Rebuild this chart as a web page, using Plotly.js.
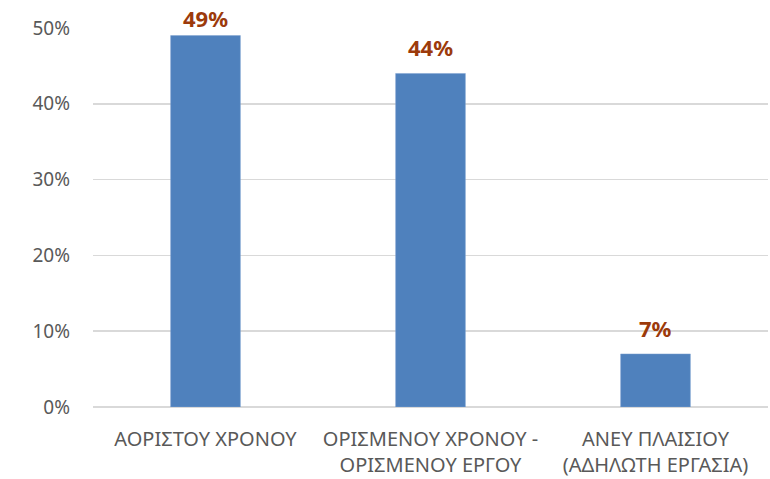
<!DOCTYPE html>
<html><head><meta charset="utf-8">
<script src="https://cdn.plot.ly/plotly-3.0.1.min.js"></script>
<style>body{margin:0;background:#fff}#c{width:770px;height:479px}</style>
</head><body><div id="c"></div>
<script>
const categories = ["ΑΟΡΙΣΤΟΥ ΧΡΟΝΟΥ", "ΟΡΙΣΜΕΝΟΥ ΧΡΟΝΟΥ -<br>ΟΡΙΣΜΕΝΟΥ ΕΡΓΟΥ", "ΑΝΕΥ ΠΛΑΙΣΙΟΥ<br>(ΑΔΗΛΩΤΗ ΕΡΓΑΣΙΑ)"];
const values = [0.49, 0.44, 0.07];
const labels = ["49%", "44%", "7%"];
const yTicks = [0, 0.1, 0.2, 0.3, 0.4, 0.5];
const yTickText = ["0%", "10%", "20%", "30%", "40%", "50%"];

const font = "Noto Sans, sans-serif";
const yMax = 0.5, plotH = 379;
const annotations = categories.map((c, i) => ({
  x: c, y: values[i], xref: "x", yref: "y",
  text: labels[i], showarrow: false,
  yanchor: "middle",
  yshift: Math.min(26, (yMax - values[i]) / yMax * plotH + 10),
  font: {family: font, size: 22, color: "#9C3A0B", weight: "bold"}
}));

Plotly.newPlot("c", [{
  type: "bar",
  x: categories,
  y: values,
  marker: {color: "#4F81BD", line: {color: "#7FA3D0", width: 0.5}},
  width: 0.31,
  hoverinfo: "none"
}], {
  width: 770, height: 479,
  margin: {l: 93, r: 2, t: 28, b: 72},
  paper_bgcolor: "#fff", plot_bgcolor: "#fff",
  font: {family: font, color: "#595959", size: 19},
  showlegend: false,
  annotations: annotations,
  xaxis: {
    type: "category",
    showgrid: false, zeroline: false,
    showline: false,
    ticks: "", ticklabelstandoff: 18,
    tickfont: {family: font, size: 20, color: "#595959"}
  },
  yaxis: {
    range: [0, yMax],
    tickvals: yTicks, ticktext: yTickText,
    showgrid: true, gridcolor: "#D9D9D9", gridwidth: 1.5,
    zeroline: true, zerolinecolor: "#D9D9D9", zerolinewidth: 1.5,
    showline: false, ticks: "",
    ticklabelstandoff: 22,
    tickfont: {family: font, size: 19, color: "#595959"}
  }
}, {staticPlot: true});
</script></body></html>
